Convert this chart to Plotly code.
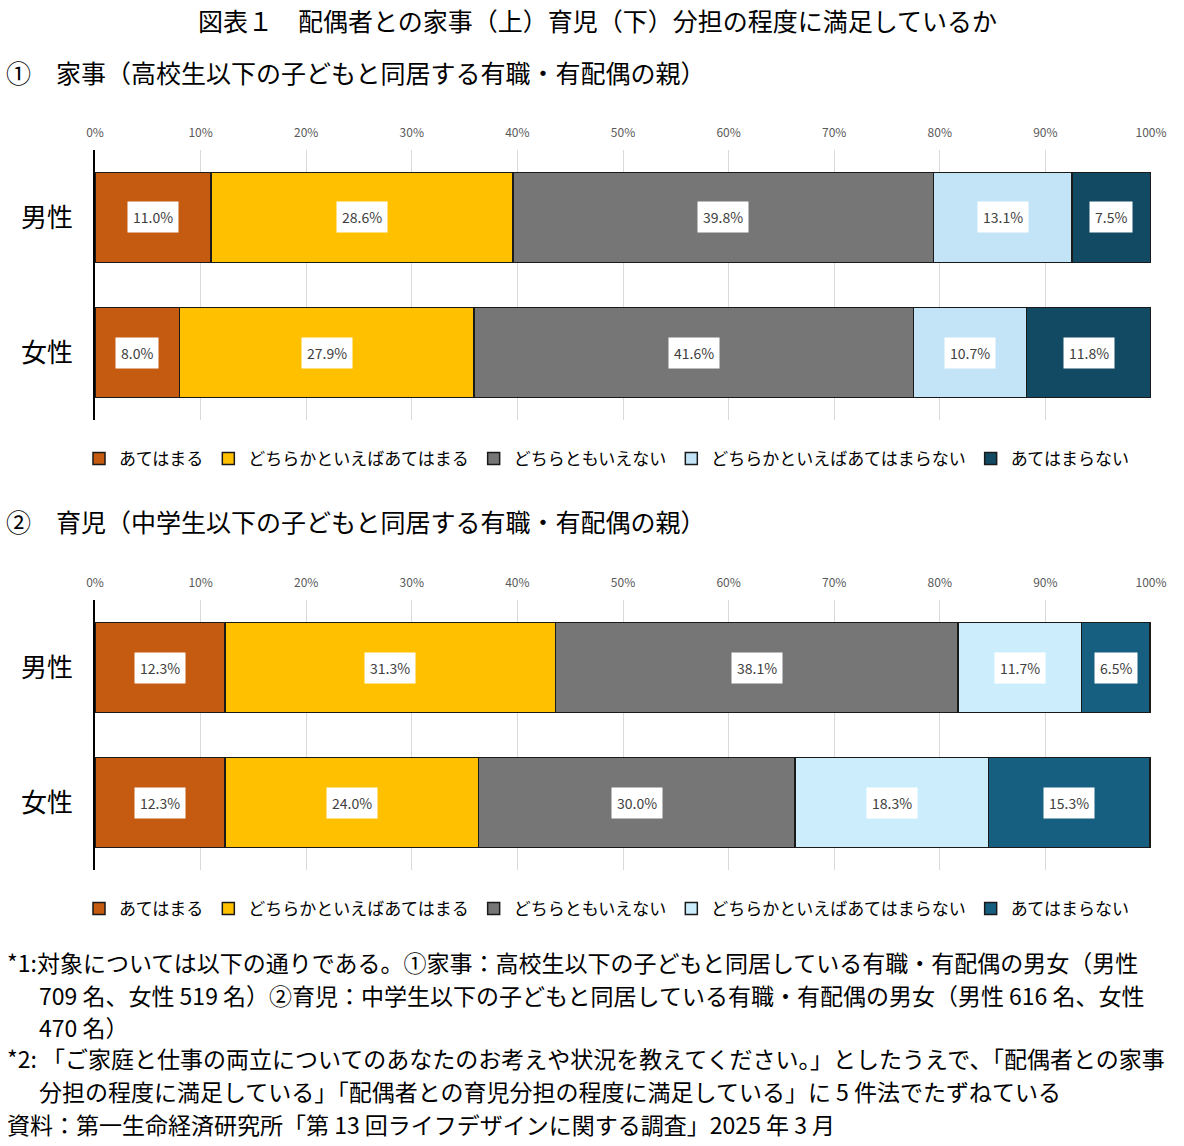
import plotly.graph_objects as go

W, H = 1184, 1146
FONT = "Noto Sans CJK JP"

categories = ["男性", "女性"]
answers = ["あてはまる", "どちらかといえばあてはまる", "どちらともいえない",
           "どちらかといえばあてはまらない", "あてはまらない"]
housework_male = [11.0, 28.6, 39.8, 13.1, 7.5]
housework_female = [8.0, 27.9, 41.6, 10.7, 11.8]
childcare_male = [12.3, 31.3, 38.1, 11.7, 6.5]
childcare_female = [12.3, 24.0, 30.0, 18.3, 15.3]
x_ticks = [0, 10, 20, 30, 40, 50, 60, 70, 80, 90, 100]

colors_top = ["#C55A11", "#FFC000", "#767676", "#C2E4F6", "#124A63"]
colors_bottom = ["#C55A11", "#FFC000", "#767676", "#CCEEFC", "#175F80"]

title = "図表１　配偶者との家事（上）育児（下）分担の程度に満足しているか"
heading1 = "①　家事（高校生以下の子どもと同居する有職・有配偶の親）"
heading2 = "②　育児（中学生以下の子どもと同居する有職・有配偶の親）"
notes = [
    ("*1:対象については以下の通りである。①家事：高校生以下の子どもと同居している有職・有配偶の男女（男性", 8, 962),
    ("709 名、女性 519 名）②育児：中学生以下の子どもと同居している有職・有配偶の男女（男性 616 名、女性", 40, 995),
    ("470 名）", 40, 1027),
    ("*2: 「ご家庭と仕事の両立についてのあなたのお考えや状況を教えてください。」としたうえで、「配偶者との家事", 8, 1058),
    ("分担の程度に満足している」「配偶者との育児分担の程度に満足している」に 5 件法でたずねている", 40, 1091),
    ("資料：第一生命経済研究所「第 13 回ライフデザインに関する調査」2025 年 3 月", 8, 1124),
]

def px_y(p):
    return 1 - p / H

def px_x(p):
    return p / W

fig = go.Figure()
annotations = []

panels = [
    ("x", "y", "legend", colors_top, housework_male, housework_female),
    ("x2", "y2", "legend2", colors_bottom, childcare_male, childcare_female),
]
for xa, ya, lg, cols, male, female in panels:
    for i, name in enumerate(answers):
        fig.add_trace(go.Bar(
            y=categories, x=[male[i], female[i]], orientation="h", name=name,
            marker=dict(color=cols[i], line=dict(color="#1a1a1a", width=1.5)),
            xaxis=xa, yaxis=ya, legend=lg, hoverinfo="skip",
        ))
    for cat, vals in zip(categories, [male, female]):
        cum = 0
        for v in vals:
            annotations.append(dict(
                x=cum + v / 2, y=cat, xref=xa, yref=ya, text=f"{v:.1f}%",
                showarrow=False, bgcolor="white", borderpad=5,
                font=dict(family=FONT, size=14, color="#404040"),
            ))
            cum += v

x_dom = [px_x(95), px_x(1151)]
axis_common = dict(
    range=[0, 100], tickvals=x_ticks, ticktext=[f"{t}%" for t in x_ticks],
    side="top", showgrid=True, gridcolor="#D9D9D9", gridwidth=1,
    zeroline=False, showline=False, ticks="", ticklabelstandoff=10,
    automargin=False,
    tickfont=dict(family=FONT, size=12, color="#595959"), fixedrange=True,
)
yaxis_common = dict(
    type="category", range=[1.5, -0.5], showline=True, linecolor="#000000",
    linewidth=1.5, ticks="", showgrid=False, zeroline=False, automargin=False,
    ticklabelstandoff=15, tickfont=dict(family=FONT, size=26, color="#000000"),
    fixedrange=True,
)

legend_common = dict(orientation="h", xanchor="left", yanchor="top",
                     font=dict(family=FONT, size=17, color="#000000"),
                     itemwidth=30, traceorder="normal", bgcolor="rgba(0,0,0,0)")

fig.update_layout(
    width=W, height=H, autosize=False,
    margin=dict(l=0, r=0, t=0, b=0, autoexpand=False),
    paper_bgcolor="white", plot_bgcolor="white",
    barmode="stack", bargap=0.333,
    font=dict(family=FONT, color="#000000"),
    xaxis=dict(domain=x_dom, anchor="y", **axis_common),
    yaxis=dict(domain=[px_y(420), px_y(150)], anchor="x", **yaxis_common),
    xaxis2=dict(domain=x_dom, anchor="y2", **axis_common),
    yaxis2=dict(domain=[px_y(870), px_y(600)], anchor="x2", **yaxis_common),
    legend=dict(x=px_x(79), y=px_y(441), **legend_common),
    legend2=dict(x=px_x(79), y=px_y(891), **legend_common),
)

annotations.append(dict(x=px_x(597), y=px_y(20), xref="paper", yref="paper",
                        text=title, showarrow=False, xanchor="center", yanchor="middle",
                        font=dict(family=FONT, size=25, color="#000000")))
for txt, yy in [(heading1, 72), (heading2, 521)]:
    annotations.append(dict(x=px_x(4), y=px_y(yy), xref="paper", yref="paper",
                            text=txt, showarrow=False, xanchor="left", yanchor="middle",
                            font=dict(family=FONT, size=25, color="#000000")))
for txt, xx, yy in notes:
    annotations.append(dict(x=px_x(xx - 3), y=px_y(yy), xref="paper", yref="paper",
                            text=txt, showarrow=False, xanchor="left", yanchor="middle",
                            font=dict(family=FONT, size=23, color="#000000")))

fig.update_layout(annotations=annotations)
fig.write_html("out.html")
